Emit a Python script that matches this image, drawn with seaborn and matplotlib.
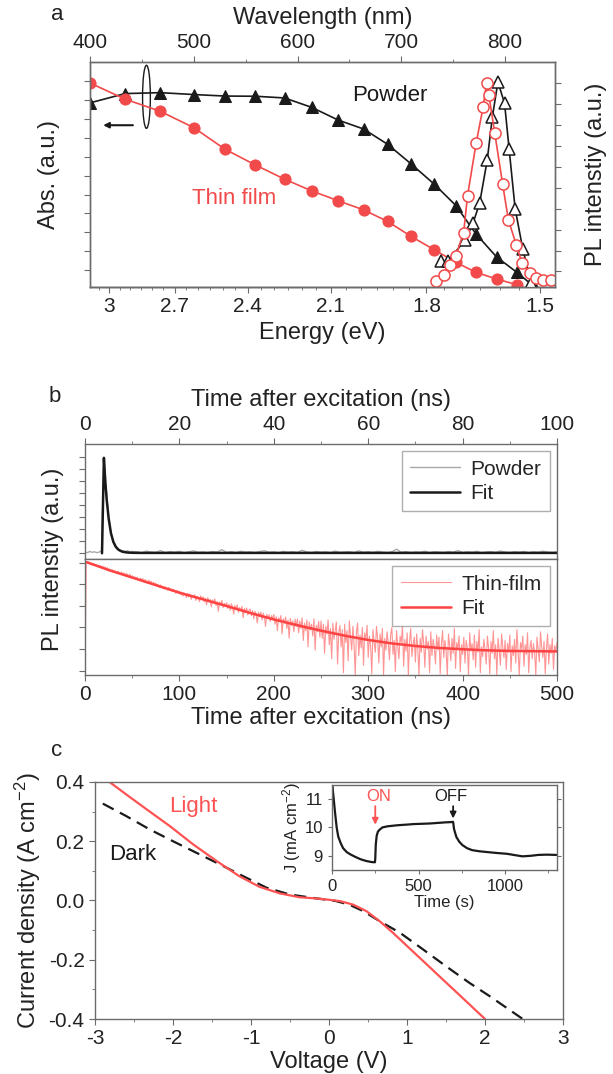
import numpy as np
import matplotlib
matplotlib.use('Agg')
import matplotlib.pyplot as plt
import seaborn as sns
from matplotlib.patches import Ellipse
from matplotlib.ticker import MultipleLocator, FuncFormatter

# ---------------- panel a: absorption / PL spectra ----------------
abs_wl = [400, 433.7, 467.5, 500.1, 530.1, 559.4, 587.5, 613.7, 639.2, 663.6,
          686.8, 709.3, 731.8, 752.5, 772.0, 791.8, 811.3, 827.4]
abs_powder = [8.84, 9.33, 9.38, 9.28, 9.20, 9.19, 9.10, 8.60, 7.93, 7.46,
              6.65, 5.62, 4.54, 3.42, 1.91, 0.70, -0.11, -0.84]
film_wl = [400, 433.7, 467.5, 500.1, 530.1, 559.4, 587.5, 613.7, 639.2, 663.6,
           686.8, 709.3, 731.8, 752.5, 772.0, 791.8, 811.3]
abs_film = [9.89, 9.04, 8.40, 7.53, 6.39, 5.56, 4.81, 4.19, 3.67, 3.19,
            2.58, 1.79, 1.08, 0.42, -0.11, -0.46, -0.76]

pl_powder_wl = [738.2, 744.7, 761.7, 769.0, 775.4, 782.7, 787.7, 793.0, 799.4,
                803.8, 809.6, 817.0, 825.1]
pl_powder = [0.48, 0.48, 1.52, 2.31, 3.26, 5.32, 7.39, 9.05, 8.02,
             5.84, 2.99, 1.06, -0.55]
pl_film_wl = [733.0, 741.2, 746.8, 752.5, 760.0, 763.7, 772.0, 778.7, 782.0,
              784.3, 790.0, 797.5, 803.1, 810.6, 816.2, 823.7, 829.3, 836.8, 844.3]
pl_film = [-0.47, -0.15, 0.32, 0.75, 1.86, 3.61, 6.12, 7.84, 8.98,
           8.42, 6.59, 4.18, 2.46, 1.28, 0.40, -0.08, -0.31, -0.40, -0.40]

wl_ticks = [400, 500, 600, 700, 800]
ev_ticks = [3, 2.7, 2.4, 2.1, 1.8, 1.5]
# the energy scale drawn in the original is logarithmic against wavelength
E_A, E_B = 1075.6, 597.9

# ---------------- panel b: PL decay ----------------
powder_t = np.concatenate([np.arange(0, 10.01, 0.5), np.arange(11, 101)])
powder_raw = [0.10, 0.05, 0.15, 0.08, 0.12, 0.05, 0.10, 0.20, 7.95, 5.30,
              3.00, 1.60, 0.90, 0.50, 0.35, 0.25, 0.20, 0.15, 0.22, 0.12, 0.15,
              0.12, 0.05, 0.18, 0.10, 0.08, 0.22, 0.06, 0.14, 0.09, 0.16,
              0.04, 0.12, 0.20, 0.08, 0.11, 0.06, 0.15, 0.10, 0.30, 0.07,
              0.13, 0.05, 0.17, 0.09, 0.12, 0.06, 0.14, 0.21, 0.08, 0.11,
              0.04, 0.16, 0.09, 0.13, 0.07, 0.25, 0.10, 0.06, 0.15, 0.09,
              0.12, 0.05, 0.18, 0.08, 0.11, 0.14, 0.06, 0.20, 0.09, 0.13,
              0.07, 0.16, 0.10, 0.05, 0.12, 0.34, 0.08, 0.14, 0.06, 0.11,
              0.09, 0.17, 0.05, 0.13, 0.10, 0.07, 0.15, 0.09, 0.22, 0.06,
              0.12, 0.08, 0.16, 0.04, 0.11, 0.14, 0.07, 0.19, 0.10, 0.06,
              0.13, 0.09, 0.15, 0.05, 0.12, 0.08, 0.17, 0.10, 0.06, 0.11]
powder_fit_t = [3.6, 4.0, 4.3, 4.6, 5.0, 5.5, 6.0, 6.5, 7.0, 7.5, 8.0, 9.0, 10.0, 12.0, 100.0]
powder_fit = [0.0, 7.9, 5.9, 4.4, 2.9, 1.65, 0.95, 0.55, 0.32, 0.20, 0.12, 0.06, 0.04, 0.03, 0.03]

# thin-film trace read every 1.25 ns (0 ... 500 ns)
film_raw = [
    -0.20, 5.06, 4.98, 5.03, 4.92, 4.99, 4.88, 4.95, 4.86, 4.93, 4.83, 4.89, 4.80, 4.87, 4.76, 4.84, 4.73, 4.80, 4.70, 4.77,
    4.62, 4.71, 4.60, 4.68, 4.55, 4.64, 4.58, 4.49, 4.61, 4.52, 4.47, 4.57, 4.43, 4.53, 4.40, 4.50, 4.45, 4.36, 4.47, 4.33,
    4.40, 4.28, 4.36, 4.22, 4.33, 4.25, 4.16, 4.29, 4.19, 4.26, 4.10, 4.22, 4.13, 4.05, 4.19, 4.08, 4.14, 3.99, 4.10, 3.96,
    4.05, 3.92, 3.99, 3.86, 3.97, 3.84, 3.91, 3.78, 3.88, 3.82, 3.73, 3.86, 3.70, 3.80, 3.66, 3.77, 3.69, 3.58, 3.72, 3.60,
    3.68, 3.52, 3.64, 3.45, 3.60, 3.50, 3.38, 3.58, 3.42, 3.55, 3.30, 3.49, 3.40, 3.52, 3.25, 3.44, 3.36, 3.20, 3.46, 3.31,
    3.42, 3.18, 3.35, 3.05, 3.38, 3.22, 3.30, 2.95, 3.28, 3.15, 3.32, 3.02, 3.20, 2.75, 3.18, 3.08, 3.25, 2.92, 3.12, 3.00,
    3.15, 2.88, 3.08, 2.80, 3.10, 2.95, 2.62, 3.02, 2.85, 3.05, 2.70, 2.92, 2.78, 2.98, 2.45, 2.88, 2.72, 2.90, 2.58, 2.80,
    2.85, 2.55, 2.78, 2.40, 2.75, 2.62, 2.20, 2.70, 2.50, 2.72, 2.35, 2.66, 2.48, 2.05, 2.62, 2.42, 2.58, 2.28, 2.55, 2.38,
    2.60, 2.15, 2.50, 1.85, 2.45, 2.30, 2.55, 1.70, 2.40, 2.20, 2.48, 1.95, 2.35, 1.50, 2.42, 2.10, 2.30, 1.80, 2.38, 2.05,
    2.40, 1.75, 2.30, 1.95, 2.45, 1.40, 2.20, 1.85, 2.35, 1.10, 2.25, 1.90, 2.15, 1.60, 2.40, 0.95, 2.10, 1.80, 2.28, 1.55,
    2.30, 1.50, 2.15, 0.80, 2.05, 1.70, 2.35, 1.20, 1.95, 0.55, 2.20, 1.45, 1.85, 2.25, 0.30, 1.75, 2.10, 1.10, 1.90, -0.10,
    2.15, 1.30, 1.85, 0.45, 2.30, 1.55, 0.95, 2.05, 1.20, -0.20, 1.80, 2.20, 0.70, 1.65, 1.05, 2.00, 0.25, 1.75, 1.40, 2.10,
    0.60, 1.60, 1.15, -0.15, 1.90, 1.30, 0.85, 2.05, 1.45, 0.35, 1.70, 1.10, 1.95, -0.20, 1.50, 0.95, 1.80, 1.25, 0.50, 1.65,
    2.00, 0.75, 1.40, -0.05, 1.85, 1.15, 0.55, 1.60, 1.30, 2.10, 0.20, 1.45, 0.90, 1.75, -0.20, 1.35, 1.95, 0.65, 1.20, 1.55,
    0.40, 1.70, 1.05, -0.20, 1.50, 0.85, 1.90, 1.25, 0.15, 1.60, 1.00, 1.35, -0.10, 1.80, 0.70, 1.45, 1.10, 0.30, 1.65, 0.95,
    1.55, -0.15, 1.25, 1.85, 0.60, 1.40, 0.90, -0.20, 1.70, 1.15, 0.45, 1.50, 0.80, 1.95, 0.10, 1.30, 1.00, 1.60, -0.05, 1.20,
    0.75, 1.55, 0.35, 1.40, 1.05, -0.20, 1.75, 0.90, 1.25, 0.50, 1.65, 0.15, 1.35, 0.85, 1.90, -0.10, 1.10, 0.65, 1.45, 0.95,
    0.30, 1.60, 1.05, -0.15, 1.35, 0.80, 1.85, 0.55, 1.20, -0.20, 1.50, 0.95, 0.25, 1.70, 1.10, 0.60, 1.40, 0.05, 1.25, 0.85,
    1.65, -0.05, 1.15, 0.70, 1.45, 0.35, 1.90, 0.90, -0.20, 1.30, 1.00, 1.60, 0.20, 1.20, 0.75, 1.75, -0.10, 1.05, 1.40, 0.55,
    1.25, 0.85, -0.20, 1.55, 0.95, 0.40, 1.80, 1.10, 0.60, 1.35, -0.15, 1.00, 1.70, 0.30, 1.20, 0.80, 1.50, 0.05, 1.15, 0.90,
    1.30]
film_t = np.linspace(0, 500, len(film_raw))
film_fit_t = [2, 25, 50, 75, 100, 125, 150, 175, 200, 225, 250, 275, 300,
              325, 350, 375, 400, 425, 450, 475, 500]
film_fit = [5.02, 4.66, 4.31, 3.96, 3.61, 3.30, 2.99, 2.67, 2.37, 2.10, 1.85,
            1.62, 1.42, 1.26, 1.14, 1.05, 0.99, 0.94, 0.91, 0.90, 0.89]

# ---------------- panel c: J-V curves + inset ----------------
light_v = [-2.83, -2.60, -2.34, -2.04, -1.74, -1.44, -1.15, -0.89, -0.63, -0.38,
           -0.12, 0.14, 0.31, 0.48, 0.65, 0.82, 1.03, 1.25, 1.46, 1.68, 2.0]
light_j = [0.403, 0.358, 0.308, 0.251, 0.189, 0.133, 0.082, 0.046, 0.024, 0.011,
           0.006, -0.002, -0.014, -0.036, -0.070, -0.109, -0.161, -0.215, -0.267, -0.321, -0.400]
dark_v = [-2.9, -2.6, -2.3, -2.0, -1.7, -1.4, -1.1, -0.8, -0.5, -0.21,
          0.09, 0.26, 0.44, 0.65, 0.91, 1.21, 1.50, 1.80, 2.06, 2.5]
dark_j = [0.327, 0.285, 0.240, 0.200, 0.161, 0.122, 0.082, 0.043, 0.020, 0.009,
          -0.002, -0.014, -0.036, -0.070, -0.109, -0.166, -0.222, -0.278, -0.323, -0.403]

inset_t = [2, 5, 10, 18, 27, 36, 50, 64, 85, 109, 135, 164, 195, 227, 248,
           250, 253, 258, 265, 275, 291, 320, 350, 382, 430, 473, 520, 564, 610,
           655, 690, 699, 701, 705, 712, 719, 735, 753, 780, 809, 850, 899, 950,
           1011, 1060, 1101, 1150, 1191, 1240, 1297]
inset_j = [11.6, 11.3, 11.0, 10.5, 10.0, 9.68, 9.45, 9.27, 9.13, 9.04, 8.96,
           8.88, 8.82, 8.78, 8.77, 8.90, 9.40, 9.70, 9.85, 9.92, 10.0, 10.04,
           10.06, 10.08, 10.10, 10.12, 10.13, 10.14, 10.16, 10.18, 10.19, 10.20,
           10.15, 9.95, 9.80, 9.66, 9.50, 9.38, 9.27, 9.20, 9.16, 9.13, 9.10,
           9.07, 9.02, 8.98, 9.00, 9.03, 9.04, 9.03]
on_time, off_time = 250, 700

RED = '#f24a4a'
BLACK = '#1a1a1a'
SPINE = '#6b6b6b'

sns.set_style('ticks')
plt.rcParams['font.family'] = ['Liberation Sans', 'DejaVu Sans']
plt.rcParams['mathtext.fontset'] = 'custom'
plt.rcParams['mathtext.rm'] = 'Liberation Sans'
plt.rcParams['mathtext.it'] = 'Liberation Sans:italic'
plt.rcParams['axes.unicode_minus'] = False
plt.rcParams['axes.edgecolor'] = SPINE
plt.rcParams['xtick.color'] = SPINE
plt.rcParams['ytick.color'] = SPINE
plt.rcParams['xtick.labelcolor'] = '#222222'
plt.rcParams['ytick.labelcolor'] = '#222222'
plt.rcParams['axes.labelcolor'] = '#222222'
plt.rcParams['xtick.labelsize'] = 15
plt.rcParams['ytick.labelsize'] = 15
plt.rcParams['axes.labelsize'] = 17
plt.rcParams['axes.linewidth'] = 1.0

fig = plt.figure(figsize=(6.13, 10.74), dpi=100)

# ======== panel a ========
ax_a = fig.add_axes([0.1468, 0.7328, 0.7586, 0.2095])
ax_p = ax_a.twinx()

sns.lineplot(x=abs_wl, y=abs_powder, ax=ax_a, color=BLACK, lw=1.2, marker='^',
             markersize=8, markeredgecolor=BLACK, markerfacecolor=BLACK)
sns.lineplot(x=film_wl, y=abs_film, ax=ax_a, color=RED, lw=1.2, marker='o',
             markersize=8, markeredgecolor=RED, markerfacecolor=RED)
sns.lineplot(x=pl_powder_wl, y=pl_powder, ax=ax_p, color=BLACK, lw=1.2, marker='^',
             markersize=8, markeredgecolor=BLACK, markerfacecolor='white',
             markeredgewidth=1.1)
sns.lineplot(x=pl_film_wl, y=pl_film, ax=ax_p, color=RED, lw=1.2, marker='o',
             markersize=8, markeredgecolor=RED, markerfacecolor='white',
             markeredgewidth=1.1)

ax_a.set_xlim(400, 848)
ax_a.set_ylim(-0.88, 11.0)
ax_p.set_ylim(-0.74, 10.0)
ax_a.set_yticks(range(11))
ax_a.set_yticklabels([])
ax_p.set_yticks(range(10))
ax_p.set_yticklabels([])
ax_a.xaxis.tick_top()
ax_a.xaxis.set_label_position('top')
ax_a.set_xticks(wl_ticks)
ax_a.xaxis.set_minor_locator(MultipleLocator(50))
ax_a.set_xlabel('Wavelength (nm)', labelpad=6)
ax_a.set_ylabel('Abs. (a.u.)', labelpad=14)
ax_p.set_ylabel('PL intenstiy (a.u.)', labelpad=14)


def wl_to_ev(wl):
    return np.exp((E_A - np.asarray(wl, dtype=float)) / E_B)


def ev_to_wl(ev):
    return E_A - E_B * np.log(np.clip(np.asarray(ev, dtype=float), 1e-6, None))


sec = ax_a.secondary_xaxis('bottom', functions=(wl_to_ev, ev_to_wl))
sec.set_xticks(ev_ticks)
sec.xaxis.set_minor_locator(MultipleLocator(0.05))
sec.xaxis.set_major_formatter(FuncFormatter(lambda v, p: f'{v:g}'))
sec.set_xlabel('Energy (eV)')

ax_a.text(688.7, 9.24, 'Powder', fontsize=16, color=BLACK, ha='center', va='center')
ax_a.text(538.7, 3.80, 'Thin film', fontsize=16, color=RED, ha='center', va='center')
ax_a.add_patch(Ellipse((454.4, 9.16), width=7.5, height=3.33, fill=False,
                       ec=BLACK, lw=1.0))
ax_a.annotate('', xy=(410, 7.66), xytext=(444, 7.66),
              arrowprops=dict(arrowstyle='-|>', color=BLACK, lw=1.5, mutation_scale=8))
for axx in (ax_a, ax_p):
    axx.tick_params(which='both', direction='out')
    axx.tick_params(which='major', length=4)
    axx.tick_params(which='minor', length=2)
sec.tick_params(which='major', length=4)
sec.tick_params(which='minor', length=2)

fig.text(57 / 613, 1 - 15 / 1074, 'a', fontsize=16, color='#222222', ha='center', va='center')

# ======== panel b ========
ax_b1 = fig.add_axes([0.1387, 0.4795, 0.770, 0.1071])
ax_b2 = fig.add_axes([0.1387, 0.3715, 0.770, 0.1080])

sns.lineplot(x=powder_t, y=powder_raw, ax=ax_b1, color='#a8a8a8', lw=1.0, label='Powder')
sns.lineplot(x=powder_fit_t, y=powder_fit, ax=ax_b1, color=BLACK, lw=1.8, label='Fit')
ax_b1.set_xlim(0, 100)
ax_b1.set_ylim(-0.476, 9.05)
ax_b1.set_yticks(range(9))
ax_b1.set_yticklabels([])
ax_b1.xaxis.tick_top()
ax_b1.xaxis.set_label_position('top')
ax_b1.xaxis.set_major_locator(MultipleLocator(20))
ax_b1.xaxis.set_minor_locator(MultipleLocator(10))
ax_b1.set_xlabel('Time after excitation (ns)', labelpad=6)
ax_b1.legend(loc='upper right', frameon=True, fancybox=False, edgecolor='#9a9a9a',
             fontsize=15, handlelength=2.4, borderaxespad=0.35, labelspacing=0.25,
             handletextpad=0.5)

sns.lineplot(x=film_t, y=film_raw, ax=ax_b2, color='#ff9494', lw=0.8, label='Thin-film')
sns.lineplot(x=film_fit_t, y=film_fit, ax=ax_b2, color='#ff4242', lw=1.8, label='Fit')
ax_b2.set_xlim(0, 500)
ax_b2.set_ylim(-0.204, 5.17)
ax_b2.set_yticks(range(6))
ax_b2.set_yticklabels([])
ax_b2.xaxis.set_major_locator(MultipleLocator(100))
ax_b2.xaxis.set_minor_locator(MultipleLocator(50))
ax_b2.set_xlabel('Time after excitation (ns)', labelpad=2)
ax_b2.legend(loc='upper right', frameon=True, fancybox=False, edgecolor='#9a9a9a',
             fontsize=15, handlelength=2.4, borderaxespad=0.35, labelspacing=0.25,
             handletextpad=0.5)
for axx in (ax_b1, ax_b2):
    axx.set_ylabel('')
    axx.tick_params(which='both', direction='out')
    axx.tick_params(which='major', length=4)
    axx.tick_params(which='minor', length=2)
fig.text(53 / 613, 1 - 559.5 / 1074, 'PL intenstiy (a.u.)', fontsize=17, rotation=90,
         ha='center', va='center', color='#222222')
fig.text(55 / 613, 1 - 397 / 1074, 'b', fontsize=16, color='#222222', ha='center', va='center')

# ======== panel c ========
ax_c = fig.add_axes([0.155, 0.0512, 0.7635, 0.2207])
sns.lineplot(x=dark_v, y=dark_j, ax=ax_c, color=BLACK, lw=1.6, linestyle=(0, (5.5, 3.2)))
sns.lineplot(x=light_v, y=light_j, ax=ax_c, color='#ff5252', lw=1.6)
ax_c.set_xlim(-3, 3)
ax_c.set_ylim(-0.4, 0.4)
ax_c.xaxis.set_major_locator(MultipleLocator(1))
ax_c.xaxis.set_minor_locator(MultipleLocator(0.5))
ax_c.yaxis.set_major_locator(MultipleLocator(0.2))
ax_c.yaxis.set_minor_locator(MultipleLocator(0.1))
ax_c.yaxis.set_major_formatter(FuncFormatter(lambda v, p: f'{v:.1f}'))
ax_c.xaxis.set_major_formatter(FuncFormatter(lambda v, p: f'{v:g}'))
ax_c.tick_params(which='both', direction='out')
ax_c.tick_params(which='major', length=4)
ax_c.tick_params(which='minor', length=2)
ax_c.set_xlabel('Voltage (V)', labelpad=2)
ax_c.set_ylabel('Current density (A cm$^{-2}$)', labelpad=4)
ax_c.text(-1.74, 0.318, 'Light', fontsize=16, color='#ff5252', ha='center', va='center')
ax_c.text(-2.52, 0.154, 'Dark', fontsize=16, color=BLACK, ha='center', va='center')
fig.text(57 / 613, 1 - 750 / 1074, 'c', fontsize=16, color='#222222', ha='center', va='center')

ax_in = fig.add_axes([0.5416, 0.19, 0.367, 0.0791])
sns.lineplot(x=inset_t, y=inset_j, ax=ax_in, color=BLACK, lw=1.6)
ax_in.set_xlim(0, 1300)
ax_in.set_ylim(8.5, 11.5)
ax_in.xaxis.set_major_locator(MultipleLocator(500))
ax_in.xaxis.set_minor_locator(MultipleLocator(250))
ax_in.yaxis.set_major_locator(MultipleLocator(1))
ax_in.tick_params(which='both', direction='out', labelsize=12, right=True)
ax_in.tick_params(which='major', length=3)
ax_in.tick_params(which='minor', length=2)
ax_in.set_xlabel('Time (s)', fontsize=12, labelpad=1)
ax_in.set_ylabel('J (mA cm$^{-2}$)', fontsize=12, labelpad=1)
ax_in.annotate('', xy=(on_time, 10.0), xytext=(on_time, 10.85),
               arrowprops=dict(arrowstyle='-|>', color='#ff5252', lw=1.3, mutation_scale=9))
ax_in.annotate('', xy=(off_time, 10.22), xytext=(off_time, 10.85),
               arrowprops=dict(arrowstyle='-|>', color=BLACK, lw=1.3, mutation_scale=9))
ax_in.text(on_time + 20, 11.1, 'ON', fontsize=12, color='#ff5252', ha='center', va='center')
ax_in.text(off_time - 15, 11.1, 'OFF', fontsize=12, color=BLACK, ha='center', va='center')

fig.savefig('out.png', dpi=100)
